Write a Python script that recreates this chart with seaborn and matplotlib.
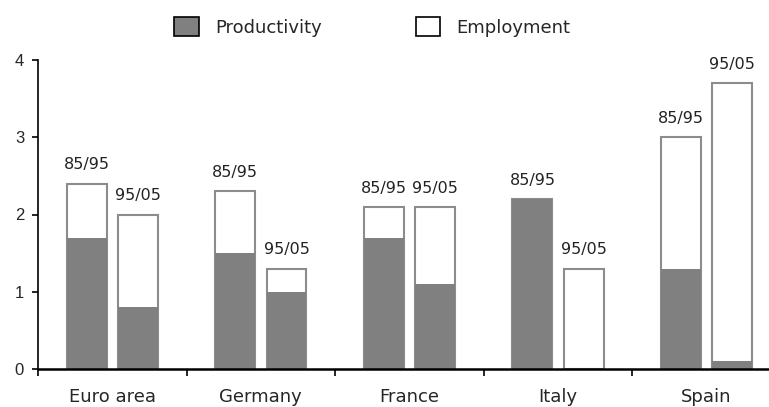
import pandas as pd
import matplotlib
matplotlib.use("Agg")
import matplotlib.pyplot as plt
import seaborn as sns
from matplotlib.patches import Patch

# Contributions to GDP growth, by period
countries = ['Euro area', 'Germany', 'France', 'Italy', 'Spain']
periods = ['85/95', '95/05']
productivity_8595 = [1.7, 1.5, 1.7, 2.2, 1.3]
employment_8595 = [0.7, 0.8, 0.4, 0.0, 1.7]
productivity_9505 = [0.8, 1.0, 1.1, 0.0, 0.1]
employment_9505 = [1.2, 0.3, 1.0, 1.3, 3.6]

PROD_COLOR = '#808080'
EDGE_COLOR = '#8c8c8c'

rows = []
for i, c in enumerate(countries):
    rows.append({'country': c, 'period': periods[0],
                 'productivity': productivity_8595[i],
                 'employment': employment_8595[i]})
    rows.append({'country': c, 'period': periods[1],
                 'productivity': productivity_9505[i],
                 'employment': employment_9505[i]})
df = pd.DataFrame(rows)
df['total'] = df['productivity'] + df['employment']

sns.set_style('white')
plt.rcParams['font.family'] = ['DejaVu Sans']

fig = plt.figure(figsize=(7.69, 4.07), dpi=100)
ax = fig.add_axes([38 / 769, 38 / 407, 1 - 38 / 769, (369 - 60) / 407])

# white employment part (full bar height), then grey productivity on top of it
sns.barplot(data=df, x='country', y='total', hue='period', hue_order=periods,
            palette=['white', 'white'], edgecolor=EDGE_COLOR, linewidth=1.5,
            width=0.69, gap=0.22, errorbar=None, legend=False, ax=ax)
sns.barplot(data=df, x='country', y='productivity', hue='period', hue_order=periods,
            palette=[PROD_COLOR, PROD_COLOR], linewidth=0,
            width=0.69, gap=0.22, errorbar=None, legend=False, ax=ax)

for cont, per in zip(ax.containers[:2], periods):
    ax.bar_label(cont, labels=[per] * len(countries), padding=8,
                 fontsize=11.5, color='#222222')

ax.set_xlim(-0.5, 4.42)
ax.set_ylim(0, 4)
ax.set_yticks([0, 1, 2, 3, 4])
ax.set_xlabel('')
ax.set_ylabel('')

# category labels centred, tick marks at the group boundaries
ax.set_xticks(range(len(countries)))
ax.set_xticklabels(countries, fontsize=13)
ax.set_xticks([i - 0.5 for i in range(len(countries))], minor=True)
ax.tick_params(axis='x', which='major', length=0, pad=14)
ax.tick_params(axis='x', which='minor', length=5, width=1.2, direction='out',
               bottom=True, color='black')
ax.tick_params(axis='y', length=4, width=1.2, direction='out', left=True,
               pad=6, color='black')
for lab in ax.get_yticklabels():
    lab.set_fontfamily('Liberation Sans')
    lab.set_fontsize(12)

for side in ['top', 'right']:
    ax.spines[side].set_visible(False)
ax.spines['left'].set_linewidth(1.2)
ax.spines['left'].set_color('black')
ax.spines['bottom'].set_linewidth(1.8)
ax.spines['bottom'].set_color('black')

handles = [Patch(facecolor=PROD_COLOR, edgecolor='black', linewidth=1.2),
           Patch(facecolor='white', edgecolor='black', linewidth=1.2)]
fig.legend(handles, ['Productivity', 'Employment'], loc='center',
           bbox_to_anchor=(0.484, 0.934), ncol=2, frameon=False, fontsize=13,
           handlelength=1.35, handleheight=1.2, handletextpad=0.9,
           columnspacing=5.2)

fig.savefig('out.png', dpi=100)
